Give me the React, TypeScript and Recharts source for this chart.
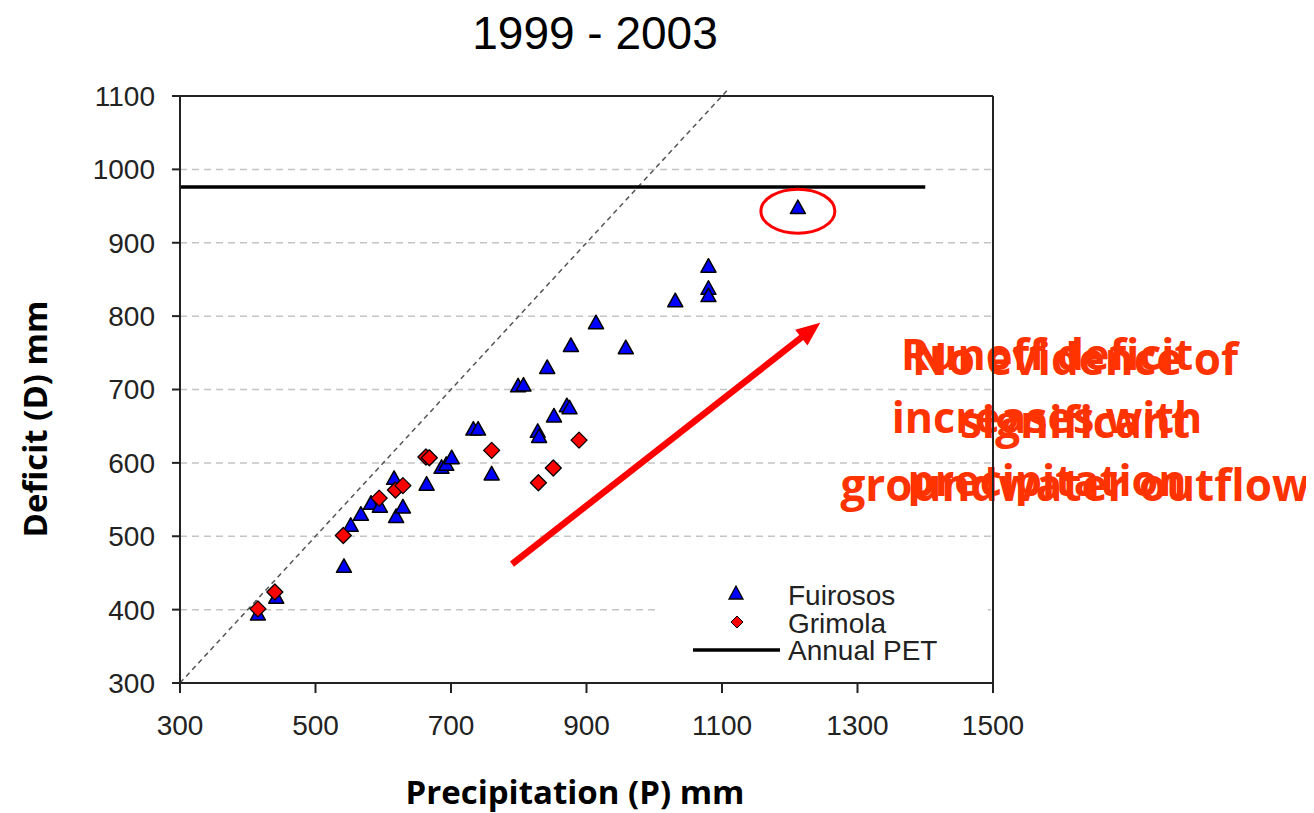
import React from 'react';
import {
  ScatterChart,
  Scatter,
  XAxis,
  YAxis,
  CartesianGrid,
  ReferenceLine,
  ReferenceDot,
  Legend,
} from 'recharts';

// ---------- data ----------
const fuirososP = [415, 442, 542, 552, 567, 582, 595, 616, 619, 629, 664, 686, 693, 701, 733, 740, 760, 799, 807, 828, 830, 842, 852, 871, 875, 877, 914, 958, 1031, 1080, 1080, 1080, 1212];
const fuirososD = [394, 417, 459, 515, 530, 545, 541, 579, 527, 540, 571, 594, 598, 607, 646, 646, 585, 705, 706, 643, 636, 730, 664, 678, 675, 760, 791, 757, 821, 868, 838, 828, 948];
const grimolaP = [415, 440, 541, 594, 618, 629, 663, 668, 760, 829, 851, 889];
const grimolaD = [401, 424, 501, 552, 563, 569, 608, 607, 617, 573, 593, 631];

const petLevel = 976;
const petRange = [300, 1400];
const oneToOneRange = [300, 1110];
const arrowFrom = [790, 462];
const arrowTo = [1245, 791];
const outlierMark = [1212, 943];

const xTicks = [300, 500, 700, 900, 1100, 1300, 1500];
const yTicks = [300, 400, 500, 600, 700, 800, 900, 1000, 1100];

const titleText = '1999 - 2003';
const xLabel = 'Precipitation (P) mm';
const yLabel = 'Deficit (D) mm';
const noteA = ['Runoff deficit', 'increases with', 'precipitation'];
const noteB = ['No evidence of', 'significant', 'groundwater outflow'];

const fuirosos = fuirososP.map((p, i) => ({ p, d: fuirososD[i] }));
const grimola = grimolaP.map((p, i) => ({ p, d: grimolaD[i] }));

// ---------- shapes ----------
const Triangle = (props: any) => {
  const { cx, cy } = props;
  if (cx == null || cy == null) return null;
  return (
    <polygon
      points={`${cx},${cy - 7.5} ${cx - 7.5},${cy + 6} ${cx + 7.5},${cy + 6}`}
      fill="#0000ff"
      stroke="#000"
      strokeWidth={1.5}
      strokeLinejoin="round"
    />
  );
};

const Diamond = (props: any) => {
  const { cx, cy } = props;
  if (cx == null || cy == null) return null;
  return (
    <polygon
      points={`${cx},${cy - 8} ${cx + 8},${cy} ${cx},${cy + 8} ${cx - 8},${cy}`}
      fill="#ff0000"
      stroke="#000"
      strokeWidth={1.3}
      strokeLinejoin="round"
    />
  );
};

const Arrow = (props: any) => {
  const { x1, y1, x2, y2 } = props;
  const dx = x2 - x1;
  const dy = y2 - y1;
  const len = Math.hypot(dx, dy) || 1;
  const ux = dx / len;
  const uy = dy / len;
  const headLen = 24;
  const headW = 10;
  const bx = x2 - ux * headLen;
  const by = y2 - uy * headLen;
  const px = -uy;
  const py = ux;
  return (
    <g>
      <line x1={x1} y1={y1} x2={bx + ux * 2} y2={by + uy * 2} stroke="#ff0000" strokeWidth={6.5} />
      <polygon
        points={`${x2},${y2} ${bx + px * headW},${by + py * headW} ${bx - px * headW},${by - py * headW}`}
        fill="#ff0000"
      />
    </g>
  );
};

const Ellipse = (props: any) => {
  const { cx, cy } = props;
  return <ellipse cx={cx} cy={cy} rx={37} ry={22} fill="none" stroke="#ff0000" strokeWidth={3} />;
};

const tickStyle = { fontSize: 28, fill: '#222', fontFamily: '"Liberation Sans", Arial, sans-serif' };

const LegendBox = () => (
  <div style={{ width: 333, height: 112, background: '#fff' }}>
    <svg width={333} height={112} style={{ display: 'block' }}>
      <polygon points="81,18 74,31 88,31" fill="#0000ff" stroke="#000" strokeWidth={1.3} />
      <polygon points="82,48 88,54 82,60 76,54" fill="#ff0000" stroke="#000" strokeWidth={1} />
      <line x1={38} y1={82} x2={125} y2={82} stroke="#000" strokeWidth={3.5} />
      <g style={{ fontSize: 28, fontFamily: '"Liberation Sans", Arial, sans-serif', fill: '#222' }}>
        <text x={133} y={37}>Fuirosos</text>
        <text x={133} y={65}>Grimola</text>
        <text x={133} y={92}>Annual PET</text>
      </g>
    </svg>
  </div>
);

export default function App() {
  const W = 1306;
  const H = 805;
  const noteStyle = {
    fontSize: 44,
    fontWeight: 700,
    fontFamily: '"Open Sans", "Noto Sans", sans-serif',
    fill: '#ff3300',
  };
  return (
    <div style={{ position: 'relative', width: W, height: H }}>
      <svg width={W} height={H} style={{ position: 'absolute', left: 0, top: 0 }}>
        <text
          x={587}
          y={41}
          textAnchor="middle"
          style={{ fontSize: 46, fontFamily: '"Liberation Sans", Arial, sans-serif', fill: '#000' }}
        >
          {titleText}
        </text>
        <text
          x={567}
          y={796}
          textAnchor="middle"
          style={{ fontSize: 33, fontWeight: 700, fontFamily: '"Open Sans", sans-serif', fill: '#000' }}
        >
          {xLabel}
        </text>
        <text
          x={39}
          y={411}
          textAnchor="middle"
          transform="rotate(-90 39 411)"
          style={{ fontSize: 33, fontWeight: 700, fontFamily: '"Open Sans", sans-serif', fill: '#000' }}
        >
          {yLabel}
        </text>
        {noteA.map((t, i) => (
          <text key={'a' + i} x={1039} y={362 + i * 63} textAnchor="middle" style={{ ...noteStyle, fontSize: 43 }}>
            {t}
          </text>
        ))}
        {noteB.map((t, i) => (
          <text key={'b' + i} x={1067} y={367 + i * 63} textAnchor="middle" style={noteStyle}>
            {t}
          </text>
        ))}
      </svg>
      <div style={{ position: 'absolute', left: 0, top: 0 }}>
        <ScatterChart width={W} height={H} margin={{ top: 88, right: 321, bottom: 80, left: 112 }}>
          <CartesianGrid vertical={false} stroke="#c4c4c4" strokeDasharray="7 5" strokeWidth={1.5} />
          <XAxis
            type="number"
            dataKey="p"
            domain={[300, 1500]}
            ticks={xTicks}
            allowDataOverflow
            height={50}
            tickSize={10}
            tickMargin={22}
            tick={tickStyle}
            axisLine={{ stroke: '#222', strokeWidth: 2 }}
            tickLine={{ stroke: '#222', strokeWidth: 2 }}
          />
          <YAxis
            type="number"
            dataKey="d"
            domain={[300, 1100]}
            ticks={yTicks}
            allowDataOverflow
            width={60}
            tickSize={8}
            tickMargin={17}
            tick={tickStyle}
            axisLine={{ stroke: '#222', strokeWidth: 2 }}
            tickLine={{ stroke: '#222', strokeWidth: 2 }}
          />
          <ReferenceLine y={1100} stroke="#222" strokeWidth={2} />
          <ReferenceLine
            segment={[
              { x: oneToOneRange[0], y: oneToOneRange[0] },
              { x: oneToOneRange[1], y: oneToOneRange[1] },
            ]}
            ifOverflow="visible"
            stroke="#555"
            strokeWidth={1.5}
            strokeDasharray="5 4"
          />
          <ReferenceLine
            segment={[
              { x: petRange[0], y: petLevel },
              { x: petRange[1], y: petLevel },
            ]}
            stroke="#000"
            strokeWidth={3.5}
          />
          <Scatter name="Fuirosos" data={fuirosos} shape={Triangle} isAnimationActive={false} />
          <Scatter name="Grimola" data={grimola} shape={Diamond} isAnimationActive={false} />
          <ReferenceLine
            segment={[
              { x: arrowFrom[0], y: arrowFrom[1] },
              { x: arrowTo[0], y: arrowTo[1] },
            ]}
            shape={Arrow}
          />
          <ReferenceDot x={outlierMark[0]} y={outlierMark[1]} shape={Ellipse} />
          <Legend
            layout="horizontal"
            align="center"
            verticalAlign="middle"
            content={() => <LegendBox />}
            wrapperStyle={{ position: 'absolute', left: 647, top: 560, width: 333, height: 112 }}
          />
          <ReferenceLine x={1500} stroke="#222" strokeWidth={2} />
        </ScatterChart>
      </div>
    </div>
  );
}
